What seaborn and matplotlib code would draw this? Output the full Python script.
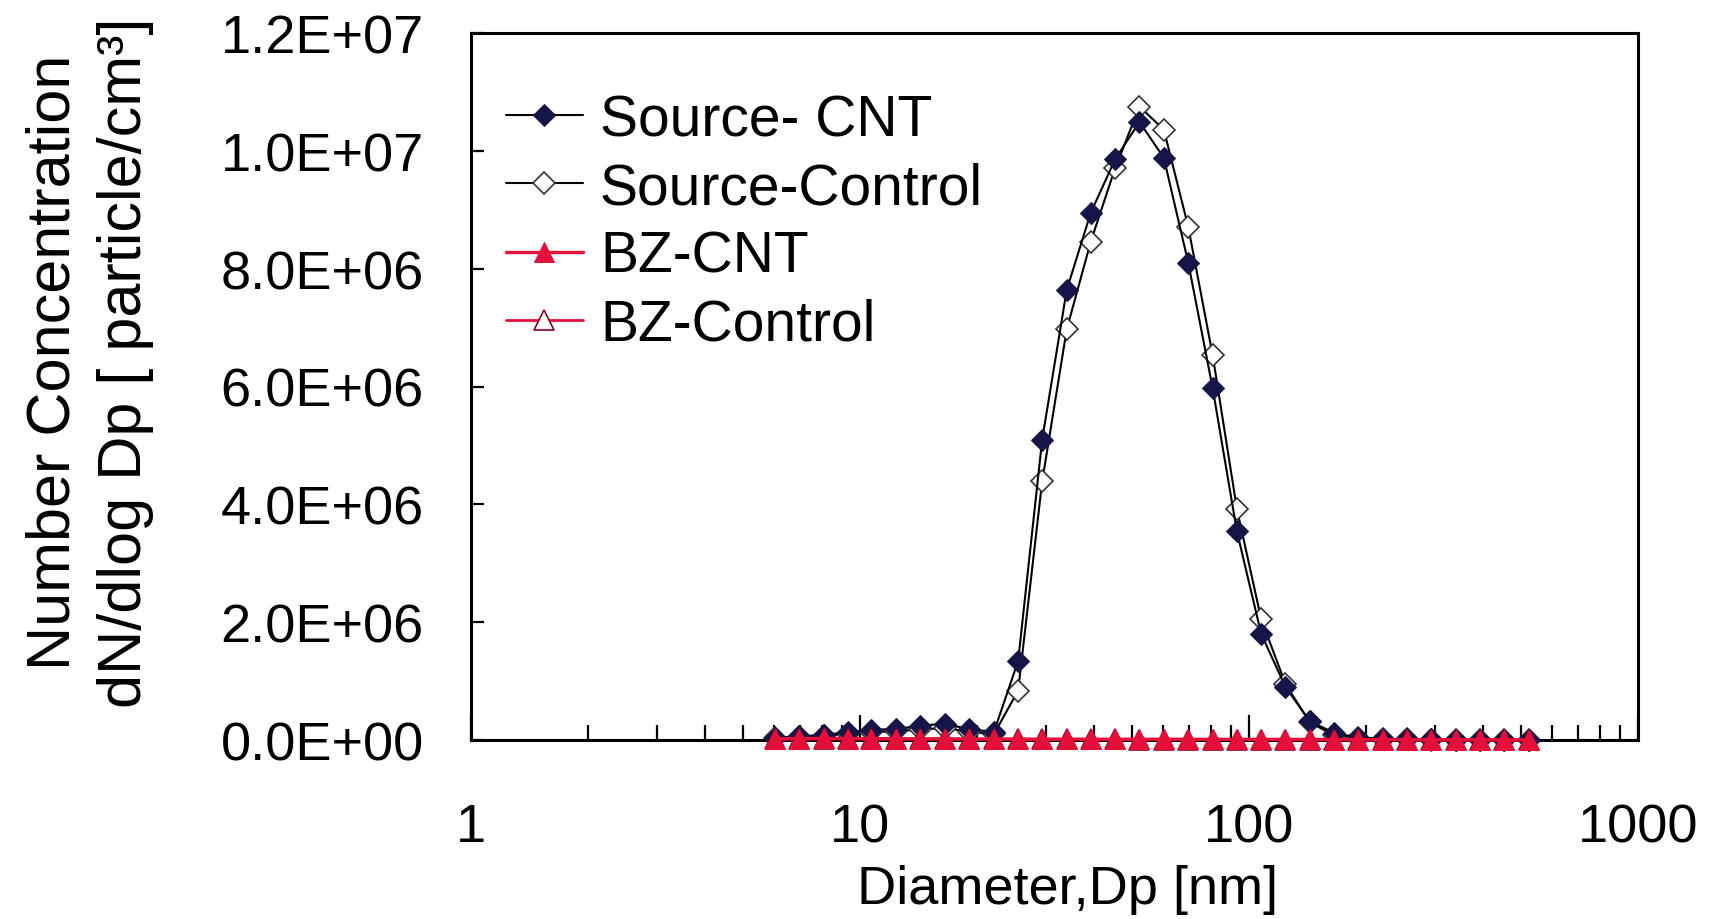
import pandas as pd
import seaborn as sns
import matplotlib
matplotlib.use("Agg")
import matplotlib.pyplot as plt
from matplotlib.ticker import FuncFormatter, LogLocator, FixedLocator

# particle diameters (nm), SMPS channel midpoints
diameter = [6.04, 6.98, 8.06, 9.31, 10.7, 12.4, 14.3, 16.5, 19.1, 22.1, 25.5, 29.4,
            34.0, 39.2, 45.3, 52.3, 60.4, 69.8, 80.6, 93.1, 107.5, 124.1, 143.3, 165.5,
            191.1, 220.7, 254.8, 294.3, 339.8, 392.4, 453.2, 523.3]

source_cnt = [0.04e6, 0.06e6, 0.09e6, 0.13e6, 0.17e6, 0.19e6, 0.24e6, 0.28e6, 0.18e6, 0.14e6,
              1.34e6, 5.10e6, 7.64e6, 8.95e6, 9.86e6, 10.49e6, 9.88e6, 8.10e6, 5.98e6, 3.54e6,
              1.80e6, 0.90e6, 0.32e6, 0.12e6, 0.04e6, 0.02e6, 0.01e6, 0.01e6, 0.0, 0.0, 0.0, 0.0]
source_control = [0.03e6, 0.05e6, 0.07e6, 0.10e6, 0.13e6, 0.15e6, 0.18e6, 0.20e6, 0.14e6, 0.10e6,
                  0.84e6, 4.39e6, 6.97e6, 8.46e6, 9.71e6, 10.75e6, 10.36e6, 8.71e6, 6.54e6, 3.92e6,
                  2.05e6, 0.95e6, 0.30e6, 0.08e6, 0.03e6, 0.02e6, 0.01e6, 0.0, 0.0, 0.0, 0.0, 0.0]
bz_cnt = [21000, 24000, 26000, 25000, 23000, 22000, 20000, 19000, 18000, 17000, 16000, 15000,
          15000, 14000, 14000, 13000, 13000, 12000, 12000, 11000, 11000, 10000, 9000, 8000,
          7000, 6000, 5000, 4000, 3000, 2000, 1500, 1000]
bz_control = [15000, 17000, 18000, 18000, 17000, 16000, 15000, 14000, 13000, 12000, 11000, 10000,
              10000, 9000, 9000, 8000, 8000, 7000, 7000, 6000, 6000, 5000, 5000, 4000,
              3500, 3000, 2500, 2000, 1500, 1000, 800, 500]

x_ticks = [1, 10, 100, 1000]
y_ticks = [0, 2e6, 4e6, 6e6, 8e6, 1.0e7, 1.2e7]

sns.set_style("white")
plt.rcParams['font.family'] = ['Liberation Sans', 'DejaVu Sans']
plt.rcParams['text.color'] = 'black'
plt.rcParams['axes.labelcolor'] = 'black'
plt.rcParams['xtick.color'] = 'black'
plt.rcParams['ytick.color'] = 'black'

fig = plt.figure(figsize=(17.19, 9.2), dpi=100)
ax = fig.add_axes([471 / 1719, 1 - 741 / 920, 1167 / 1719, 707 / 920])

navy = "#15154a"
red = "#e5103a"

sns.lineplot(x=diameter, y=source_cnt, ax=ax, color="black", lw=1.5, marker="D", ms=11,
             markerfacecolor=navy, markeredgecolor=navy, label="Source- CNT", zorder=3,
             clip_on=False)
sns.lineplot(x=diameter, y=source_control, ax=ax, color="black", lw=1.5, marker="D", ms=11,
             markerfacecolor="white", markeredgecolor="#333333", mew=1.2,
             label="Source-Control", zorder=2, clip_on=False)
sns.lineplot(x=diameter, y=bz_control, ax=ax, color=red, lw=2.0, marker="^", ms=14,
             markerfacecolor="white", markeredgecolor="#8a0020", mew=1.2,
             label="BZ-Control", zorder=4, clip_on=False)
sns.lineplot(x=diameter, y=bz_cnt, ax=ax, color=red, lw=2.4, marker="^", ms=15,
             markerfacecolor=red, markeredgecolor=red, label="BZ-CNT", zorder=5,
             clip_on=False)

ax.set_xscale("log")
ax.set_xlim(1, 1000)
ax.set_ylim(0, 1.2e7)
ax.xaxis.set_major_locator(FixedLocator(x_ticks))
ax.xaxis.set_minor_locator(LogLocator(base=10, subs=range(2, 10)))
ax.set_xticklabels([str(t) for t in x_ticks])
ax.xaxis.set_minor_formatter(FuncFormatter(lambda v, p: ""))
ax.set_yticks(y_ticks)
ax.yaxis.set_major_formatter(FuncFormatter(lambda v, p: f"{v:.1E}"))

ax.tick_params(axis="x", which="major", direction="in", length=18, width=1.6,
               labelsize=39, pad=45, bottom=True, top=False)
ax.tick_params(axis="x", which="minor", direction="in", length=11, width=1.6,
               bottom=True, top=False)
ax.tick_params(axis="y", direction="in", length=9, width=1.6, labelsize=39, pad=34,
               left=True, right=False)

for s in ax.spines.values():
    s.set_linewidth(2.2)
    s.set_color("black")

ax.set_xlabel("Diameter,Dp [nm]", fontsize=39)
ax.xaxis.set_label_coords(0.511, -0.176)
ax.xaxis.label.set_va("top")
ax.set_ylabel("Number Concentration\ndN/dlog Dp [ particle/cm³]", fontsize=44, linespacing=1.33)
ax.yaxis.set_label_coords(-0.272, 0.535)

# legend in the original series order
handles, labels = ax.get_legend_handles_labels()
order = ["Source- CNT", "Source-Control", "BZ-CNT", "BZ-Control"]
hmap = dict(zip(labels, handles))
ax.legend([hmap[k] for k in order], order, loc="upper left", bbox_to_anchor=(0.03, 0.915),
          frameon=False, fontsize=41, handlelength=1.35, handletextpad=0.3,
          labelspacing=0.25, borderpad=0, borderaxespad=0)

fig.savefig("out.png", dpi=100)
